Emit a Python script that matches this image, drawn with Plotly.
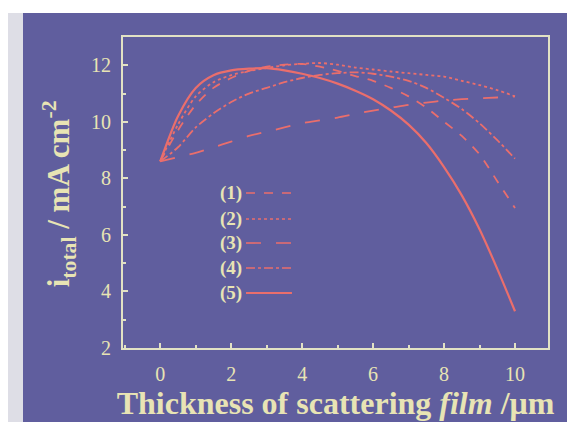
import plotly.graph_objects as go

thickness = [0, 0.5, 1, 1.5, 2, 2.5, 3, 3.5, 4, 4.5, 5, 5.5, 6, 6.5, 7, 7.5, 8, 8.5, 9, 9.5, 10]
curve1 = [8.6, 9.7, 10.6, 11.2, 11.55, 11.8, 11.95, 12.02, 12.05, 11.95, 11.8, 11.62, 11.45, 11.2, 10.9, 10.5, 10.0, 9.5, 8.85, 7.9, 6.95]
curve2 = [8.6, 9.9, 10.9, 11.4, 11.65, 11.8, 11.9, 12.0, 12.05, 12.08, 12.02, 11.92, 11.85, 11.78, 11.72, 11.66, 11.6, 11.45, 11.3, 11.12, 10.9]
curve3 = [8.6, 8.75, 8.9, 9.1, 9.3, 9.5, 9.65, 9.8, 9.95, 10.05, 10.15, 10.28, 10.4, 10.5, 10.6, 10.68, 10.75, 10.8, 10.83, 10.86, 10.9]
curve4 = [8.6, 9.1, 9.8, 10.3, 10.7, 11.0, 11.2, 11.4, 11.55, 11.66, 11.72, 11.75, 11.7, 11.6, 11.45, 11.2, 10.85, 10.45, 9.95, 9.35, 8.7]
curve5 = [8.6, 10.2, 11.2, 11.65, 11.82, 11.88, 11.9, 11.82, 11.7, 11.55, 11.35, 11.1, 10.8, 10.4, 9.9, 9.25, 8.4, 7.4, 6.2, 4.8, 3.3]

labels = ["(1)", "(2)", "(3)", "(4)", "(5)"]
dashes = ["dash", "dot", "longdash", "dashdot", "solid"]
series = [curve1, curve2, curve3, curve4, curve5]

x_ticks = [0, 2, 4, 6, 8, 10]
y_ticks = [2, 4, 6, 8, 10, 12]

BG = "rgb(96,94,158)"
LINE = "rgb(234,110,108)"
TXT = "rgb(232,228,180)"
FRAME = "rgb(226,226,196)"

fig = go.Figure()
for name, ys, d in zip(labels, series, dashes):
    fig.add_trace(go.Scatter(
        x=thickness, y=ys, mode="lines", name=name,
        line=dict(color=LINE, width=2.2 if d == "solid" else 1.8, dash=d, shape="spline", smoothing=0.8),
        showlegend=False,
    ))

# page background (scanned blue panel)
fig.add_shape(type="rect", xref="paper", yref="paper", x0=-0.2353, x1=1.07, y0=-0.2379, y1=1.0772,
              fillcolor=BG, line=dict(width=0), layer="below")
fig.add_shape(type="rect", xref="paper", yref="paper", x0=-0.285, x1=-0.2353, y0=-0.2379, y1=1.0772,
              fillcolor="rgb(222,222,230)", line=dict(width=0), layer="below")

# legend (label left, line sample right)
leg_y = [0.4984, 0.4148, 0.3376, 0.2572, 0.1768]
for lab, d, yy in zip(labels, dashes, leg_y):
    fig.add_annotation(x=0.2847, y=yy, xref="paper", yref="paper", text="<b>" + lab + "</b>", showarrow=False,
                       xanchor="right", yanchor="middle",
                       font=dict(family="Liberation Serif", size=19, color=TXT))
    fig.add_shape(type="line", xref="paper", yref="paper", x0=0.2894, x1=0.3976, y0=yy, y1=yy,
                  line=dict(color=LINE, width=2 if d == "solid" else 1.6, dash=d))

# y-axis title as rotated annotation
fig.add_annotation(x=-0.15, y=0.495, xref="paper", yref="paper",
                   text="<b>i<sub>total</sub> / mA cm<sup>-2</sup></b>", showarrow=False,
                   textangle=-90, xanchor="center", yanchor="middle",
                   font=dict(family="Liberation Serif", size=31, color=TXT))

axis_common = dict(
    showline=True, linecolor=FRAME, linewidth=2, mirror=True,
    ticks="inside", tickcolor=FRAME, ticklen=5, tickwidth=1.5,
    showgrid=False, zeroline=False, automargin=False,
    tickfont=dict(family="Liberation Serif", size=20, color=TXT),
    minor=dict(ticks="inside", ticklen=3, tickcolor=FRAME, dtick=1),
)

fig.update_layout(
    width=567, height=422,
    margin=dict(l=115, r=27, t=29, b=82),
    paper_bgcolor="white",
    plot_bgcolor=BG,
    xaxis=dict(range=[-1.05, 10.93], tickvals=x_ticks, ticklabelstandoff=7,
               title=dict(text="<b>Thickness of scattering <i>film</i> /μm</b>", standoff=4,
                          font=dict(family="Liberation Serif", size=32, color=TXT)),
               **axis_common),
    yaxis=dict(range=[2, 13], tickvals=y_ticks, ticklabelstandoff=6,
               **axis_common),
)

fig.write_html("out.html")
